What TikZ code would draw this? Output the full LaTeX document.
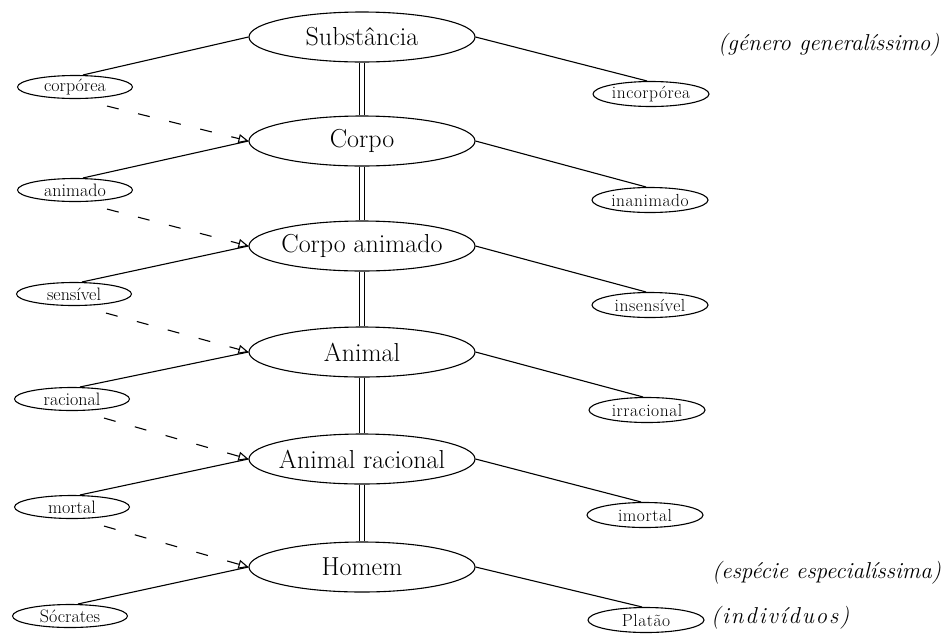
\documentclass[tikz,border=0pt]{standalone}
\usepackage{fontspec}
\setmainfont{Latin Modern Roman}
\usetikzlibrary{shapes.geometric,arrows.meta}
\begin{document}
\begin{tikzpicture}[x=1pt,y=-1pt,
  mainnode/.style={ellipse,draw,line width=1.1pt,minimum width=226pt,minimum height=50pt,
    inner xsep=-16pt,inner ysep=0pt,font=\fontsize{26}{30}\selectfont},
  leftnode/.style={ellipse,draw,line width=1.1pt,minimum width=115pt,minimum height=23pt,
    inner xsep=-14pt,inner ysep=-2pt,font=\fontsize{18}{20}\selectfont},
  rightnode/.style={ellipse,draw,line width=1.1pt,minimum width=116pt,minimum height=25pt,
    inner xsep=-14pt,inner ysep=-1pt,font=\fontsize{17.5}{19}\selectfont\addfontfeatures{LetterSpace=3}},
  note/.style={anchor=west,inner sep=0pt,font=\fontsize{23}{26}\selectfont\itshape},
  link/.style={line width=1.1pt},
  dasharrow/.style={line width=1.1pt,dash pattern=on 12pt off 20pt,
    -{Triangle[open,length=10pt,width=9pt]}}
]
\useasboundingbox (0,0) rectangle (944,641);

% main chain
\node[mainnode] (subst)   at (362,37)  {Substância};
\node[mainnode] (corpo)   at (362,141) {Corpo};
\node[mainnode] (corpoan) at (362,246) {Corpo animado};
\node[mainnode] (animal)  at (362,352) {Animal};
\node[mainnode] (animrac) at (362,459) {Animal racional};
\node[mainnode] (homem)   at (362,567) {Homem};

% left differences
\node[leftnode] (corporea) at (75,87)  {corpórea};
\node[leftnode] (animado)  at (75,190) {animado};
\node[leftnode] (sensivel) at (74,294) {sensível};
\node[leftnode] (racional) at (72,399) {racional};
\node[leftnode] (mortal)   at (72,507) {mortal};
\node[leftnode] (socrates) at (70,616) {Sócrates};

% right differences
\node[rightnode] (incorporea) at (651,94)  {incorpórea};
\node[rightnode] (inanimado)  at (650,200) {inanimado};
\node[rightnode] (insensivel) at (650,305) {insensível};
\node[rightnode] (irracional) at (647,410) {irracional};
\node[rightnode] (imortal)    at (645,515) {imortal};
\node[rightnode] (platao)     at (646,620) {Platão};

% annotations
\node[note] (ngen) at (718,45)  {(género generalíssimo)};
\node[note] (nesp) at (712,573) {(espécie especialíssima)};
\node[note,font=\fontsize{23}{26}\selectfont\itshape\addfontfeatures{LetterSpace=8}] (nind) at (711,618) {(indivíduos)};

% vertical double links
\foreach \a/\b in {subst/corpo,corpo/corpoan,corpoan/animal,animal/animrac,animrac/homem}{
  \draw[link] ([xshift=-2.5pt]\a.south) -- ([xshift=-2.5pt]\b.north);
  \draw[link] ([xshift=2.5pt]\a.south) -- ([xshift=2.5pt]\b.north);
}

% left solid links
\draw[link] ([xshift=8pt]corporea.north) -- (subst.west);
\draw[link] ([xshift=8pt]animado.north)  -- (corpo.west);
\draw[link] ([xshift=8pt]sensivel.north) -- (corpoan.west);
\draw[link] ([xshift=8pt]racional.north) -- (animal.west);
\draw[link] ([xshift=8pt]mortal.north)   -- (animrac.west);
\draw[link] ([xshift=8pt]socrates.north) -- (homem.west);

% dashed arrows
\draw[dasharrow] ([xshift=32pt,yshift=-7pt]corporea.south) -- (corpo.west);
\draw[dasharrow] ([xshift=32pt,yshift=-7pt]animado.south)  -- (corpoan.west);
\draw[dasharrow] ([xshift=32pt,yshift=-7pt]sensivel.south) -- (animal.west);
\draw[dasharrow] ([xshift=32pt,yshift=-7pt]racional.south) -- (animrac.west);
\draw[dasharrow] ([xshift=32pt,yshift=-7pt]mortal.south)   -- (homem.west);

% right links
\draw[link] (subst.east)   -- ([xshift=-4pt]incorporea.north);
\draw[link] (corpo.east)   -- ([xshift=-4pt]inanimado.north);
\draw[link] (corpoan.east) -- ([xshift=-4pt]insensivel.north);
\draw[link] (animal.east)  -- ([xshift=-4pt]irracional.north);
\draw[link] (animrac.east) -- ([xshift=-4pt]imortal.north);
\draw[link] (homem.east)   -- ([xshift=-4pt]platao.north);
\end{tikzpicture}
\end{document}
